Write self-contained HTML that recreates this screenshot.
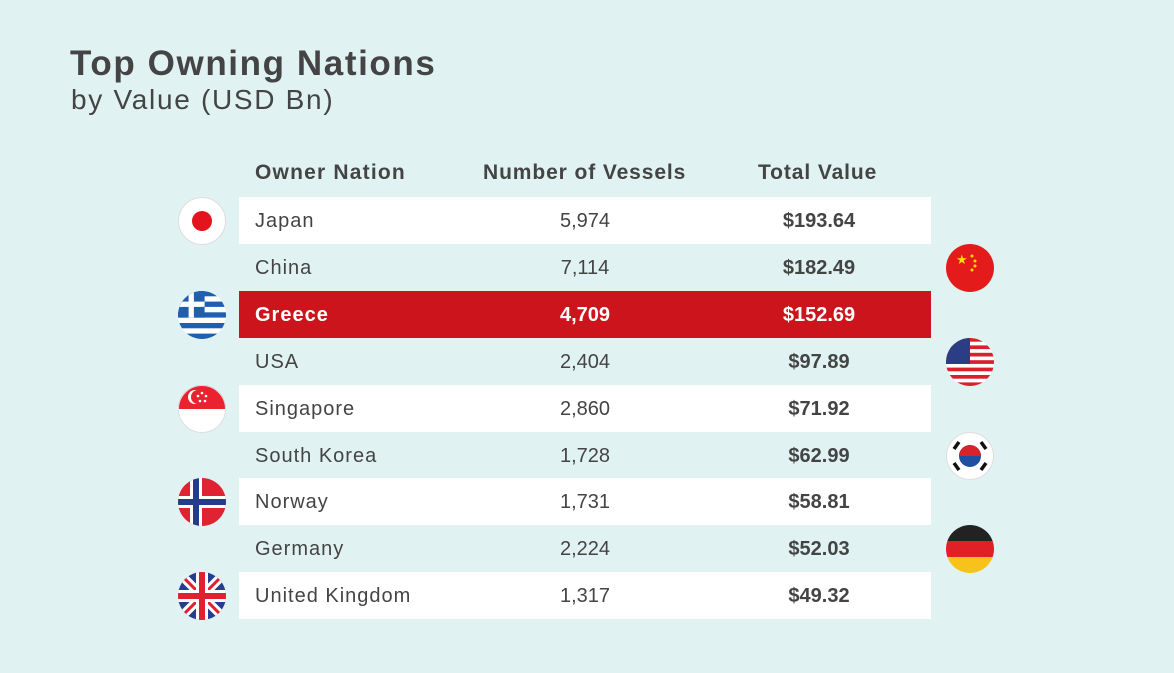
<!DOCTYPE html>
<html><head><meta charset="utf-8"><style>
body{margin:0;width:1174px;height:673px;background:#e1f2f2;font-family:"Liberation Sans",sans-serif;color:#444;position:relative;overflow:hidden}
.t1{position:absolute;left:70px;top:44px;font-size:35px;font-weight:bold;color:#444;letter-spacing:1.6px}
.t2{position:absolute;left:71px;top:84px;font-size:28px;color:#444;letter-spacing:1.7px}
.h{position:absolute;top:161px;font-size:21px;font-weight:bold;color:#444;letter-spacing:1.2px}
.row{position:absolute;left:239px;width:692px;height:47px;font-size:20px;line-height:49px}
.row.w{background:#fff}.row.r{background:#cc141c;color:#fff;font-weight:bold}
.row span{position:absolute}
.n{left:16px;letter-spacing:1px}.v{left:286px;width:120px;text-align:center}.p{left:520px;width:120px;text-align:center;font-weight:bold}
svg.f{position:absolute;width:48px;height:48px}
</style></head><body>
<div class="t1">Top Owning Nations</div>
<div class="t2">by Value (USD Bn)</div>
<div class="h" style="left:255px">Owner Nation</div>
<div class="h" style="left:483px;letter-spacing:0.9px">Number of Vessels</div>
<div class="h" style="left:758px;letter-spacing:0.9px">Total Value</div>

<div class="row w" style="top:197px"><span class="n">Japan</span><span class="v">5,974</span><span class="p">$193.64</span></div>
<div class="row" style="top:244px"><span class="n">China</span><span class="v">7,114</span><span class="p">$182.49</span></div>
<div class="row r" style="top:291px"><span class="n">Greece</span><span class="v">4,709</span><span class="p">$152.69</span></div>
<div class="row" style="top:338px"><span class="n">USA</span><span class="v">2,404</span><span class="p">$97.89</span></div>
<div class="row w" style="top:385px"><span class="n">Singapore</span><span class="v">2,860</span><span class="p">$71.92</span></div>
<div class="row" style="top:432px"><span class="n">South Korea</span><span class="v">1,728</span><span class="p">$62.99</span></div>
<div class="row w" style="top:478px"><span class="n">Norway</span><span class="v">1,731</span><span class="p">$58.81</span></div>
<div class="row" style="top:525px"><span class="n">Germany</span><span class="v">2,224</span><span class="p">$52.03</span></div>
<div class="row w" style="top:572px"><span class="n">United Kingdom</span><span class="v">1,317</span><span class="p">$49.32</span></div>

<svg width="0" height="0" style="position:absolute"><defs><clipPath id="c"><circle cx="24" cy="24" r="24"/></clipPath></defs></svg>
<svg class="f" style="left:178px;top:197px" viewBox="0 0 48 48"><circle cx="24" cy="24" r="23.5" fill="#fff" stroke="#ddd"/><circle cx="24" cy="24" r="10" fill="#e3141e"/></svg>
<svg class="f" style="left:946px;top:244px" viewBox="0 0 48 48"><circle cx="24" cy="24" r="24" fill="#e31b1b"/><text x="10" y="20" font-size="13" fill="#ffde00">★</text><circle cx="26" cy="12" r="1.5" fill="#ffde00"/><circle cx="29" cy="17" r="1.5" fill="#ffde00"/><circle cx="29" cy="22" r="1.5" fill="#ffde00"/><circle cx="26" cy="26" r="1.5" fill="#ffde00"/></svg>
<svg class="f" style="left:178px;top:291px" viewBox="0 0 48 48"><g clip-path="url(#c)"><rect width="48" height="48" fill="#fff"/><g fill="#1f5fb0"><rect y="0" width="48" height="5.3"/><rect y="10.6" width="48" height="5.3"/><rect y="21.3" width="48" height="5.3"/><rect y="32" width="48" height="5.3"/><rect y="42.6" width="48" height="5.4"/><rect width="26.6" height="26.6"/></g><rect x="10.6" width="5.3" height="26.6" fill="#fff"/><rect y="10.6" width="26.6" height="5.3" fill="#fff"/></g></svg>
<svg class="f" style="left:946px;top:338px" viewBox="0 0 48 48"><g clip-path="url(#c)"><rect width="48" height="48" fill="#fff"/><g fill="#d9202c"><rect y="0" width="48" height="3.7"/><rect y="7.4" width="48" height="3.7"/><rect y="14.8" width="48" height="3.7"/><rect y="22.2" width="48" height="3.7"/><rect y="29.6" width="48" height="3.7"/><rect y="37" width="48" height="3.7"/><rect y="44.4" width="48" height="3.7"/></g><rect width="24" height="26" fill="#2b3d85"/></g></svg>
<svg class="f" style="left:178px;top:385px" viewBox="0 0 48 48"><g clip-path="url(#c)"><rect width="48" height="48" fill="#fff"/><rect width="48" height="24" fill="#ea2230"/><circle cx="17" cy="12" r="7" fill="#fff"/><circle cx="20" cy="12" r="7" fill="#ea2230"/><circle cx="24" cy="8" r="1.3" fill="#fff"/><circle cx="28" cy="11" r="1.3" fill="#fff"/><circle cx="20" cy="11" r="1.3" fill="#fff"/><circle cx="22" cy="16" r="1.3" fill="#fff"/><circle cx="27" cy="16" r="1.3" fill="#fff"/></g><circle cx="24" cy="24" r="23.5" fill="none" stroke="#ddd"/></svg>
<svg class="f" style="left:946px;top:432px" viewBox="0 0 48 48"><circle cx="24" cy="24" r="23.5" fill="#fff" stroke="#ddd"/><circle cx="24" cy="24" r="11" fill="#1f4fa0"/><path d="M13 24a11 11 0 0 1 22 0z" fill="#d8222c"/><g stroke="#111" stroke-width="3.5"><line x1="8" y1="17" x2="13" y2="10"/><line x1="35" y1="10" x2="40" y2="17"/><line x1="8" y1="31" x2="13" y2="38"/><line x1="35" y1="38" x2="40" y2="31"/></g></svg>
<svg class="f" style="left:178px;top:478px" viewBox="0 0 48 48"><g clip-path="url(#c)"><rect width="48" height="48" fill="#e02332"/><rect x="12" width="12" height="48" fill="#fff"/><rect y="18" width="48" height="12" fill="#fff"/><rect x="15" width="6" height="48" fill="#233d8c"/><rect y="21" width="48" height="6" fill="#233d8c"/></g></svg>
<svg class="f" style="left:946px;top:525px" viewBox="0 0 48 48"><g clip-path="url(#c)"><rect width="48" height="16" fill="#222"/><rect y="16" width="48" height="16" fill="#e01f26"/><rect y="32" width="48" height="16" fill="#f6c21b"/></g></svg>
<svg class="f" style="left:178px;top:572px" viewBox="0 0 48 48"><g clip-path="url(#c)"><rect width="48" height="48" fill="#243f8f"/><path d="M0 0L48 48M48 0L0 48" stroke="#fff" stroke-width="9"/><path d="M0 0L48 48M48 0L0 48" stroke="#e0202e" stroke-width="3"/><rect x="18" width="12" height="48" fill="#fff"/><rect y="18" width="48" height="12" fill="#fff"/><rect x="21" width="6" height="48" fill="#e0202e"/><rect y="21" width="48" height="6" fill="#e0202e"/></g></svg>
</body></html>
